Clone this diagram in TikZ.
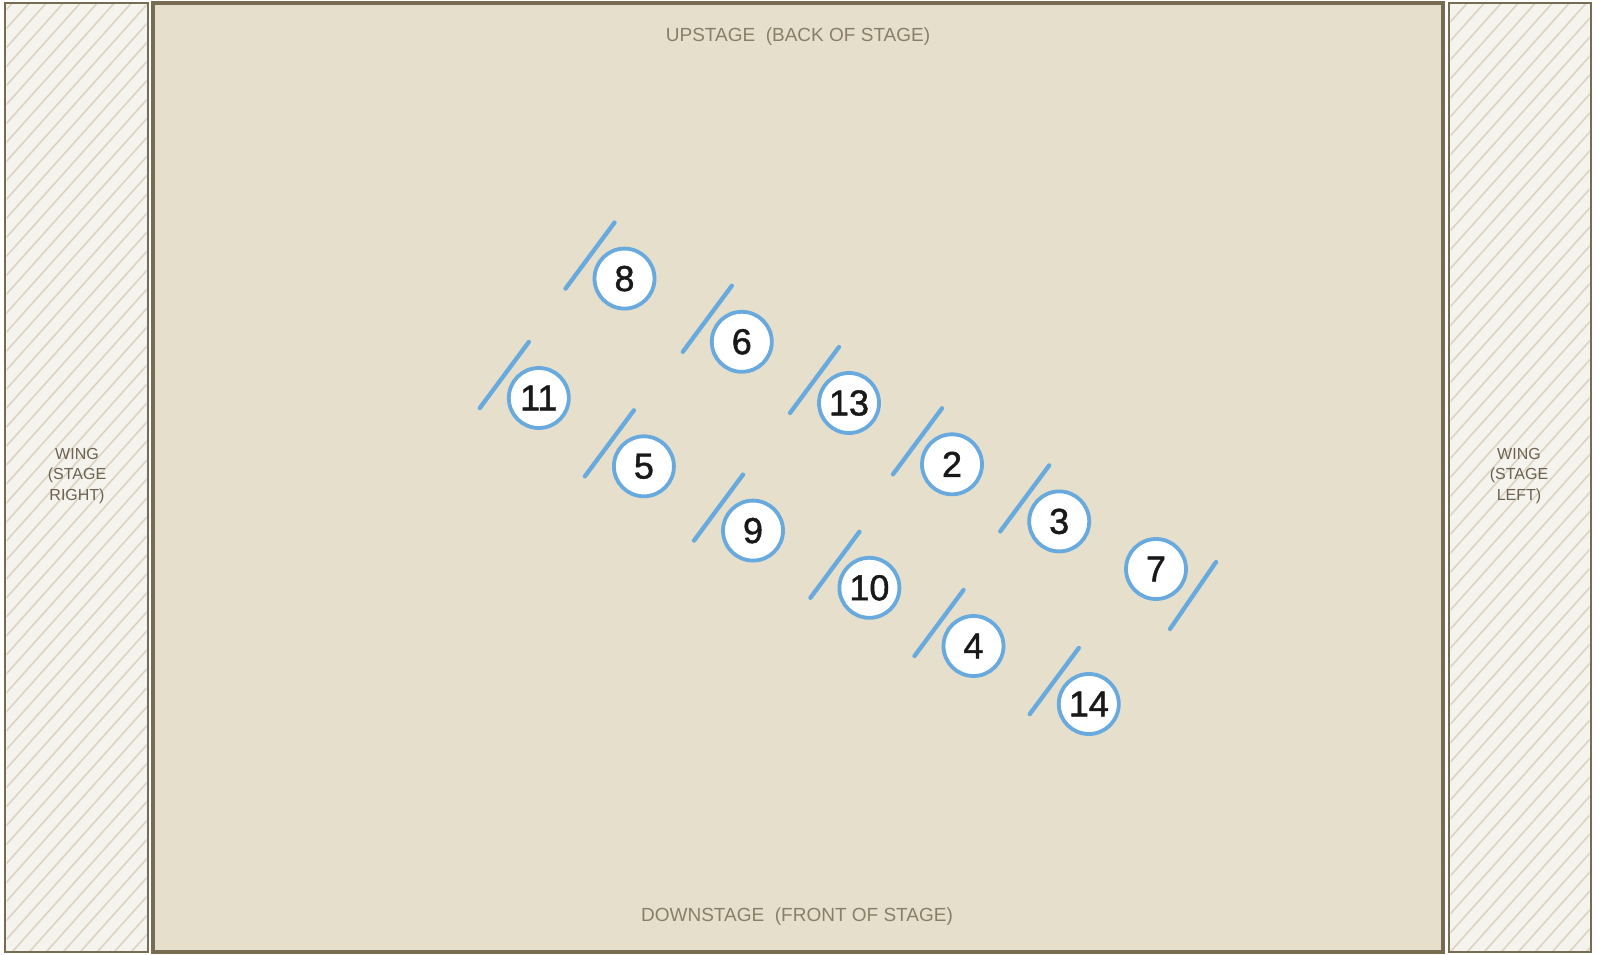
\documentclass[tikz,border=0pt]{standalone}
\usepackage{fontspec}
\setmainfont{Liberation Sans}
\newfontfamily\numfont{Liberation Sans}[FakeBold=1.3]
\definecolor{stagefill}{HTML}{E6DFCC}
\definecolor{stageline}{HTML}{776B52}
\definecolor{wingfill}{HTML}{F5F3EE}
\definecolor{hatch}{HTML}{DCD3C2}
\definecolor{dblue}{HTML}{68A9DE}
\definecolor{labeltxt}{HTML}{8A7F66}
\definecolor{wingtxt}{HTML}{6B6250}
\begin{document}
\begin{tikzpicture}[x=1pt,y=-1pt,
  dancer/.style={circle,draw=dblue,line width=3.8pt,fill=white,minimum size=60pt,inner sep=0pt,
    font=\numfont\fontsize{36}{36}\selectfont,text=black!90},
  slash/.style={draw=dblue,line width=4.3pt,line cap=round},
  wingbox/.style={draw=stageline,line width=2.5pt,fill=wingfill},
  hatchline/.style={draw=hatch,line width=1.6pt},
  stagetext/.style={text=labeltxt,font=\fontsize{19}{19}\selectfont},
  wingtext/.style={text=wingtxt,font=\fontsize{16}{20.5}\selectfont,align=center}]
\useasboundingbox (0,0) rectangle (1600,955);
\fill[white] (0,0) rectangle (1600,955);
% wings
\path[wingbox] (5,3) rectangle (148,952);
\begin{scope}
\clip (6.5,4.5) rectangle (146.5,950.5);
\foreach \t in {-1100,-1083,...,200}{\draw[hatchline] (\t,960) -- (\t+860,0);}
\end{scope}
\draw[stageline,line width=2.5pt] (5,3) rectangle (148,952);
\path[wingbox] (1449,3) rectangle (1591,952);
\begin{scope}
\clip (1450.5,4.5) rectangle (1589.5,950.5);
\foreach \t in {440,457,...,1640}{\draw[hatchline] (\t,960) -- (\t+860,0);}
\end{scope}
\draw[stageline,line width=2.5pt] (1449,3) rectangle (1591,952);
% stage
\path[draw=stageline,line width=3.5pt,fill=stagefill] (153,3) rectangle (1443,952);
\node[stagetext] (up) at (798,37) {UPSTAGE\ \ (BACK OF STAGE)};
\node[stagetext] (down) at (797,917) {DOWNSTAGE\ \ (FRONT OF STAGE)};
\node[wingtext] (wl) at (77,476) {WING\\(STAGE\\RIGHT)};
\node[wingtext] (wr) at (1519,476) {WING\\(STAGE\\LEFT)};
% dancers
\foreach \n/\x/\y in {8/624.5/278.6,6/741.8/341.8,11/538.8/398,13/849/403,5/643.9/466.3,2/952/464.3,9/753/530.6,3/1059.2/521.4,10/869.4/587.8,4/973.5/646,14/1088.8/704}{
  \path[slash] (\x-59,\y+10) -- (\x-10,\y-56);
  \node[dancer] (d\n) at (\x,\y) {\n};
}
\path[slash] (1156+14,569+60) -- (1156+60,569-7);
\node[dancer] (d7) at (1156,569) {7};
\end{tikzpicture}
\end{document}
